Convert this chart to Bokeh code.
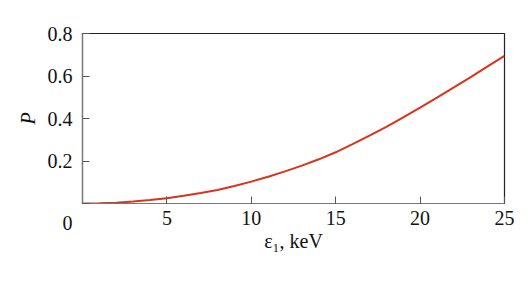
from bokeh.plotting import figure
from bokeh.models import FixedTicker, Range1d
from bokeh.embed import file_html
from bokeh.resources import INLINE

# Data
energy_kev = [0, 1, 2, 3, 4, 5, 6, 7, 8, 9, 10, 11, 12, 13, 14, 15, 16, 17, 18, 19, 20, 21, 22, 23, 24, 25]
prob = [0.0, 0.001, 0.004, 0.009, 0.016, 0.025, 0.036, 0.049, 0.064, 0.082, 0.103, 0.126, 0.151,
        0.178, 0.208, 0.241, 0.279, 0.319, 0.361, 0.405, 0.451, 0.498, 0.546, 0.595, 0.645, 0.695]
x_ticks = [0, 5, 10, 15, 20, 25]
y_ticks = [0, 0.2, 0.4, 0.6, 0.8]

FONT = "Liberation Serif"

p = figure(width=530, height=287, output_backend="svg", toolbar_location=None,
           x_range=Range1d(0, 25), y_range=Range1d(0, 0.8),
           min_border_left=82, min_border_right=26, min_border_top=33, min_border_bottom=84)

p.line(energy_kev, prob, line_color="#d8341c", line_width=2)

p.grid.visible = False
p.outline_line_color = "#222222"
p.outline_line_width = 1.2

for ax in (p.xaxis[0], p.yaxis[0]):
    ax.axis_line_color = "#777777"
    ax.axis_line_width = 1.2
    ax.major_tick_line_color = "#555555"
    ax.major_tick_in = 7
    ax.major_tick_out = 0
    ax.minor_tick_line_color = None
    ax.major_label_text_font = FONT
    ax.major_label_text_font_size = "20px"
    ax.major_label_text_color = "#111111"
    ax.axis_label_text_font = FONT
    ax.axis_label_text_font_size = "20px"
    ax.axis_label_text_color = "#111111"

p.xaxis.ticker = FixedTicker(ticks=x_ticks)
p.xaxis.major_label_overrides = {0: ""}
p.xaxis.axis_label = "ε₁, keV"
p.xaxis.axis_label_text_font_style = "normal"
p.xaxis.major_label_standoff = 7
p.xaxis.axis_label_standoff = 2

# origin "0" is shown once, below-left of the corner, via the y axis
p.yaxis.ticker = FixedTicker(ticks=y_ticks)
p.yaxis.major_label_overrides = {0: "\n0"}
p.yaxis.major_label_text_line_height = 1.8
p.yaxis.axis_label = "P"
p.yaxis.axis_label_text_font_style = "italic"
p.yaxis.major_label_standoff = 10
p.yaxis.axis_label_standoff = 6

open("out.html", "w").write(file_html(p, INLINE))
